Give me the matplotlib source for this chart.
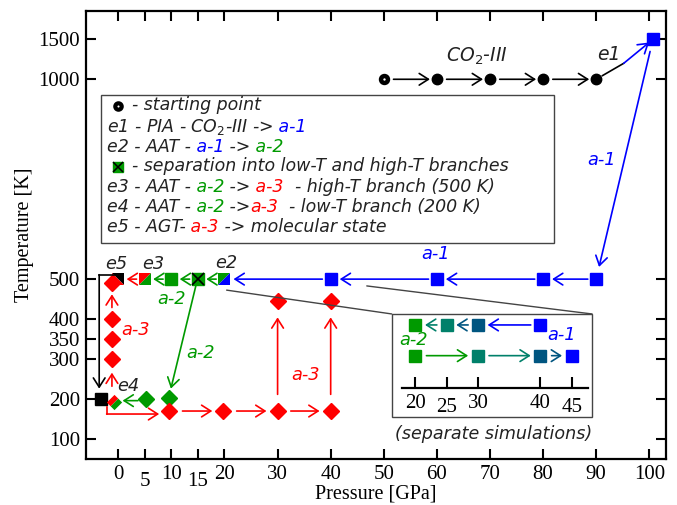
import matplotlib
matplotlib.use('Agg')
import numpy as np
import matplotlib.pyplot as plt
from matplotlib import transforms
from matplotlib.patches import Rectangle, ConnectionPatch

plt.rcParams['font.family'] = 'Liberation Serif'

BLUE = '#0000ff'
GREEN = '#009a00'
RED = '#ff0000'
TEAL = '#00806a'
DTEAL = '#005580'

# CO2-III heated path at 1000 K
co2_p = [50, 60, 70, 80, 90]
co2_t = [1000, 1000, 1000, 1000, 1000]
# PIA product (a-1)
top_p, top_t = 100.7, 1500
# a-1 decompression at 500 K
a1_p = [90, 80, 60, 40]
a1_t = [500, 500, 500, 500]
e2_p, e2_t = 20, 500
sep_p, sep_t = 15, 500
a2_p, a2_t = 10, 500
e3_p, e3_t = 5, 500
e5_p, e5_t = 0, 500
# high-T branch, a-3 heated near 0 GPa
a3_col_p = [-1.2, -1.2, -1.2, -1.2]
a3_col_t = [300, 350, 400, 490]
mol_p, mol_t = -3.3, 200
# low-T branch (200 K)
a2_lo_p = [5.2, 9.5]
a2_lo_t = [200, 202]
e4_p, e4_t = -0.9, 192
a3_lo_p = [9.6, 19.8, 30, 40]
a3_lo_t = [170, 170, 170, 170]
a3_up_p = [30, 40]
a3_up_t = [446, 446]

# inset: separate simulations
dec_p = [40, 30, 25, 20]
dec_c = [BLUE, DTEAL, TEAL, GREEN]
cmp_p = [20, 30, 40, 45]
cmp_c = [GREEN, TEAL, DTEAL, BLUE]

xticks = [0, 5, 10, 15, 20, 30, 40, 50, 60, 70, 80, 90, 100]
yticks = [100, 200, 300, 350, 400, 500, 1000, 1500]
inset_ticks = [20, 25, 30, 40, 45]

SANS = dict(family='DejaVu Sans', style='italic')


def fwd(t):
    t = np.asarray(t, float)
    return np.where(t <= 1000, t, 1000 + (t - 1000) * 0.2)


def inv(u):
    u = np.asarray(u, float)
    return np.where(u <= 1000, u, 1000 + (u - 1000) * 5)


def arrow(ax, p0, p1, color, sa=0, sb=0, lw=1.2, style=None):
    if style is None:
        style = '->,head_length=0.55,head_width=0.35'
    ax.annotate('', xy=p1, xytext=p0,
                arrowprops=dict(arrowstyle=style, color=color, lw=lw,
                                shrinkA=sa, shrinkB=sb, mutation_scale=12))


def rainbow(ax, x, y, parts, size=12.5):
    renderer = ax.figure.canvas.get_renderer()
    trans = ax.transData
    for s, c in parts:
        t = ax.text(x, y, s, color=c, transform=trans, va='baseline',
                    fontsize=size, **SANS)
        t.draw(renderer)
        ex = t.get_window_extent(renderer)
        trans = transforms.offset_copy(t.get_transform(), x=ex.width, units='dots')


def label(ax, x, y, s, color='#222222', size=12.8):
    ax.text(x, y, s, color=color, fontsize=size, ha='center', va='center', **SANS)


UL = [(-1, -1), (-1, 1), (1, 1)]
LR = [(-1, -1), (1, -1), (1, 1)]
UR = [(-1, 1), (1, 1), (1, -1)]
LL = [(-1, 1), (-1, -1), (1, -1)]
DTL = [(-1, 0), (0, 1), (0.5, 0.5), (-0.5, -0.5)]
DBR = [(-0.5, -0.5), (0.5, 0.5), (1, 0), (0, -1)]

fig = plt.figure(figsize=(6.77, 5.05), dpi=100)
ax = fig.add_axes([0.1266, 0.0911, 0.8567, 0.8871])
ax.set_yscale('function', functions=(fwd, inv))
ax.set_xlim(-6.14, 103.1)
ax.set_ylim(50, 1854)
ax.set_xticks(xticks)
ax.set_yticks(yticks)
ax.yaxis.set_minor_locator(matplotlib.ticker.NullLocator())
ax.tick_params(direction='in', length=7, width=1.5, top=True, right=True,
               labelsize=15, pad=4)
for tick, v in zip(ax.xaxis.get_major_ticks(), xticks):
    if v in (5, 15):
        tick.set_pad(9.5)
for sp in ax.spines.values():
    sp.set_linewidth(1.6)
ax.set_xlabel('Pressure [GPa]', fontsize=14.5)
ax.set_ylabel('Temperature [K]', fontsize=14.5)
ax.xaxis.set_label_coords(0.5, -0.058)
ax.yaxis.set_label_coords(-0.09, 0.5)

SQ = 8.4
DM = 8

# CO2-III path
for i in range(len(co2_p) - 1):
    arrow(ax, (co2_p[i], co2_t[i]), (co2_p[i + 1], co2_t[i + 1]), 'k', sa=7, sb=5)
ax.plot(co2_p[1:], co2_t[1:], 'o', color='k', ms=7.5)
ax.plot(co2_p[0], co2_t[0], 'o', mfc='white', mec='k', ms=5, mew=3.2)
label(ax, 67.5, 1282, 'CO$_2$-III', size=13.5)
label(ax, 92.3, 1316, 'e1', size=13.5)
ax.annotate('', xy=(95.2, 1200), xytext=(co2_p[-1], co2_t[-1]),
            arrowprops=dict(arrowstyle='-', color='k', lw=1.2, shrinkA=5, shrinkB=0))
arrow(ax, (95.2, 1200), (top_p, top_t), BLUE, sa=0, sb=3.6)
ax.plot(top_p, top_t, 's', color=BLUE, ms=SQ)

# a-1 down to 500 K and decompression
arrow(ax, (top_p, top_t), (a1_p[0], a1_t[0]), BLUE, sa=9, sb=9)
label(ax, 91.1, 797, 'a-1', BLUE)
chain_p = a1_p + [e2_p]
for i in range(len(chain_p) - 1):
    arrow(ax, (chain_p[i], 500), (chain_p[i + 1], 500), BLUE, sa=6, sb=6.5)
ax.plot(a1_p, a1_t, 's', color=BLUE, ms=SQ)
label(ax, 59.7, 562, 'a-1', BLUE)

# a-2 at 500 K
arrow(ax, (e2_p, e2_t), (sep_p, sep_t), GREEN, sa=6, sb=6)
arrow(ax, (sep_p, sep_t), (a2_p, a2_t), GREEN, sa=6, sb=6)
arrow(ax, (a2_p, a2_t), (e3_p, e3_t), GREEN, sa=6, sb=6)
arrow(ax, (e3_p, e3_t), (e5_p, e5_t), RED, sa=6, sb=6)
ax.plot(e2_p, e2_t, marker=UL, color=GREEN, ms=SQ, mew=0, ls='none')
ax.plot(e2_p, e2_t, marker=LR, color=BLUE, ms=SQ, mew=0, ls='none')
ax.plot(sep_p, sep_t, 's', color=GREEN, ms=SQ)
ax.plot(sep_p, sep_t, 'x', color='k', ms=SQ, mew=1.2)
ax.plot(a2_p, a2_t, 's', color=GREEN, ms=SQ)
ax.plot(e3_p, e3_t, marker=UL, color=RED, ms=SQ, mew=0, ls='none')
ax.plot(e3_p, e3_t, marker=LR, color=GREEN, ms=SQ, mew=0, ls='none')
ax.plot(e5_p, e5_t, marker=UR, color='k', ms=SQ, mew=0, ls='none')
ax.plot(e5_p, e5_t, marker=LL, color=RED, ms=SQ, mew=0, ls='none')
label(ax, 20.4, 541, 'e2')
label(ax, 6.6, 537, 'e3')
label(ax, -0.3, 537, 'e5')
label(ax, 10.0, 450, 'a-2', GREEN)

# high-T a-3 column and molecular state
ax.plot(a3_col_p, a3_col_t, 'D', color=RED, ms=DM)
arrow(ax, (-1.2, 232), (-1.2, 266), RED)
arrow(ax, (-1.2, 429), (-1.2, 462), RED)
label(ax, 3.2, 372, 'a-3', RED)
ax.plot([-0.6, -3.6], [511, 511], color='k', lw=1.2)
arrow(ax, (-3.6, 511), (-3.6, 226), 'k')
ax.plot(mol_p, mol_t, 's', color='k', ms=SQ)

# low-T branch
arrow(ax, (14.6, 483), (9.9, 226), GREEN)
label(ax, 15.4, 316, 'a-2', GREEN)
ax.plot(a2_lo_p, a2_lo_t, 'D', color=GREEN, ms=DM)
arrow(ax, (3.7, 196), (0.8, 196), GREEN)
ax.plot(e4_p, e4_t, marker=DTL, color=RED, ms=11, mew=0, ls='none')
ax.plot(e4_p, e4_t, marker=DBR, color=GREEN, ms=11, mew=0, ls='none')
label(ax, 1.9, 233, 'e4')
ax.plot([-2.2, -2.2], [179, 162.5], color=RED, lw=1.2)
arrow(ax, (-2.2, 162.5), (7.7, 162.5), RED)
for i in range(len(a3_lo_p) - 1):
    arrow(ax, (a3_lo_p[i], a3_lo_t[i]), (a3_lo_p[i + 1], a3_lo_t[i + 1]), RED, sa=9.5, sb=8)
for p, t0, t1 in zip(a3_up_p, [170, 170], a3_up_t):
    arrow(ax, (p, t0), (p, t1), RED, sa=12, sb=12)
ax.plot(a3_lo_p, a3_lo_t, 'D', color=RED, ms=DM)
ax.plot(a3_up_p, a3_up_t, 'D', color=RED, ms=DM)
label(ax, 35.2, 260, 'a-3', RED)

label(ax, 70.7, 112, '(separate simulations)', size=12.6)

# legend box
ax.add_patch(Rectangle((-3.26, 590.75), 85.36, 370, fill=False, ec='#444444', lw=1))
ax.plot(0, 933, 'o', mfc='white', mec='k', ms=4.6, mew=3.0)
ax.plot(0, 781, 's', color=GREEN, ms=7.5)
ax.plot(0, 781, 'x', color='k', ms=7.5, mew=1.1)
K = '#222222'
x0 = -2.19
rainbow(ax, 2.5, 922, [('- starting point', K)])
rainbow(ax, x0, 869, [('e1 - PIA - CO$_2$-III ->', K), (' a-1', BLUE)])
rainbow(ax, x0, 819, [('e2 - AAT -', K), (' a-1', BLUE), (' ->', K), (' a-2', GREEN)])
rainbow(ax, 2.5, 770, [('- separation into low-T and high-T branches', K)])
rainbow(ax, x0, 719, [('e3 - AAT -', K), (' a-2', GREEN), (' ->', K), (' a-3', RED),
                      ('  - high-T branch (500 K)', K)])
rainbow(ax, x0, 669, [('e4 - AAT -', K), (' a-2', GREEN), (' ->', K), ('a-3', RED),
                      ('  - low-T branch (200 K)', K)])
rainbow(ax, x0, 619, [('e5 - AGT-', K), (' a-3', RED), (' -> molecular state', K)])

# inset
ins = fig.add_axes([0.5786, 0.1749, 0.2959, 0.2034])
ins.set_xlim(16.23, 48.24)
ins.set_ylim(-1.987, 1.358)
for k in ('top', 'left', 'right'):
    ins.spines[k].set_visible(False)
ins.spines['bottom'].set_position(('data', -1.06))
ins.spines['bottom'].set_bounds(17.92, 47.65)
ins.spines['bottom'].set_linewidth(1.6)
ins.set_yticks([])
ins.set_xticks(inset_ticks)
ins.tick_params(direction='in', length=8, width=1.5, labelsize=15, pad=4)
for tick, v in zip(ins.xaxis.get_major_ticks(), inset_ticks):
    if v in (25, 45):
        tick.set_pad(7)
ins.add_patch(Rectangle((0, 0), 1, 1, transform=ins.transAxes, fill=False,
                        ec='#444444', lw=1, clip_on=False))
for i in range(len(dec_p) - 1):
    arrow(ins, (dec_p[i], 1), (dec_p[i + 1], 1), dec_c[i], sa=7, sb=7)
for i in range(len(cmp_p) - 1):
    arrow(ins, (cmp_p[i], 0), (cmp_p[i + 1], 0), cmp_c[i], sa=8, sb=7)
for p, c in zip(dec_p, dec_c):
    ins.plot(p, 1, 's', color=c, ms=8)
for p, c in zip(cmp_p, cmp_c):
    ins.plot(p, 0, 's', color=c, ms=8)
label(ins, 19.7, 0.51, 'a-2', GREEN)
label(ins, 43.4, 0.67, 'a-1', BLUE)

for xa, xb in [((20.4, 472.5), (0, 1)), ((46.8, 483), (1, 1))]:
    con = ConnectionPatch(xyA=xa, coordsA=ax.transData, xyB=xb, coordsB=ins.transAxes,
                          color='#444444', lw=1)
    fig.add_artist(con)

fig.savefig('out.png', dpi=100)
